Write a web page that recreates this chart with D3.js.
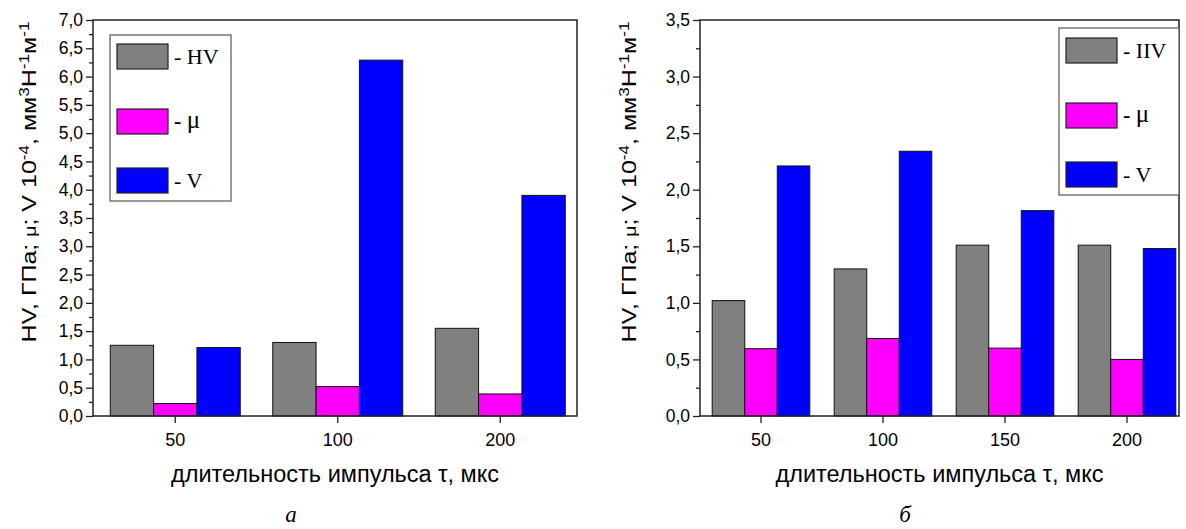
<!DOCTYPE html>
<html>
<head>
<meta charset="utf-8">
<script src="https://cdn.jsdelivr.net/npm/d3@7"></script>
<style>
  body { margin: 0; background: #fff; }
  svg text { fill: #000; }
</style>
</head>
<body>
<svg id="chart" width="1186" height="529"></svg>
<script>
// panel a
var catsA = ['50', '100', '200']
var hvA = [1.25, 1.30, 1.55]
var muA = [0.22, 0.52, 0.39]
var vA = [1.21, 6.29, 3.90]
var namesA = ['HV', 'μ', 'V']

// panel b
var catsB = ['50', '100', '150', '200']
var hvB = [1.02, 1.30, 1.51, 1.51]
var muB = [0.595, 0.685, 0.60, 0.50]
var vB = [2.21, 2.34, 1.815, 1.48]
var namesB = ['IIV', 'μ', 'V']

var colors = ['#808080', '#ff00ff', '#0000ff']
var xTitle = 'длительность импульса τ, мкс'

var svg = d3.select('#chart')
var comma = function(d){ return d3.format('.1f')(d).replace('.', ',') }

function panel(opt) {
   var g = svg.append('g')
   var f = opt.frame   // plot box

   var x = d3.scaleBand()
             .domain(opt.cats)
             .range(opt.xRange)
             .paddingInner(0.2)
             .paddingOuter(0.1)
   var x1 = d3.scaleBand()
              .domain([0, 1, 2])
              .range([0, x.bandwidth()])
   var y = d3.scaleLinear()
             .domain([0, opt.yMax])
             .range([f.bottom, f.top])

   var rows = opt.cats.map(function(c, i){
      return {cat: c, vals: [opt.hv[i], opt.mu[i], opt.v[i]]}
   })

   g.append('g').selectAll('g')
      .data(rows)
      .enter()
      .append('g')
      .attr('transform', function(d){ return 'translate(' + x(d.cat) + ',0)' })
      .selectAll('rect')
      .data(function(d){ return d.vals })
      .enter()
      .append('rect')
      .attr('x', function(d, i){ return x1(i) })
      .attr('width', x1.bandwidth())
      .attr('y', function(d){ return y(d) })
      .attr('height', function(d){ return y(0) - y(d) })
      .style('fill', function(d, i){ return colors[i] })
      .style('stroke', '#111')
      .style('stroke-width', 1)

   // frame
   g.append('rect')
      .attr('x', f.left).attr('y', f.top)
      .attr('width', f.right - f.left).attr('height', f.bottom - f.top)
      .style('fill', 'none').style('stroke', '#222').style('stroke-width', 1.5)

   // y axis, major + minor
   var yAxis = d3.axisLeft(y).ticks(opt.yMax * 2).tickSize(7).tickPadding(3).tickFormat(comma)
   var ya = g.append('g').attr('transform', 'translate(' + f.left + ',0)').call(yAxis)
   var minor = d3.range(0.25, opt.yMax, 0.5)
   g.append('g').attr('transform', 'translate(' + f.left + ',0)')
      .call(d3.axisLeft(y).tickValues(minor).tickSize(4).tickFormat(''))
      .select('.domain').remove()
   ya.select('.domain').remove()
   ya.selectAll('text').style('font-family', 'Liberation Sans, Arial').style('font-size', '17.5px')

   // x axis
   var xa = g.append('g').attr('transform', 'translate(0,' + f.bottom + ')')
      .call(d3.axisBottom(x).tickSize(7).tickPadding(10))
   xa.select('.domain').remove()
   xa.selectAll('text').style('font-family', 'Liberation Sans, Arial').style('font-size', '18px')
   g.selectAll('.tick line').style('stroke', '#222').style('stroke-width', 1.3)

   // axis titles
   g.append('text')
      .attr('x', (f.left + f.right) / 2).attr('y', 482)
      .attr('text-anchor', 'middle')
      .style('font-family', 'Liberation Sans, Arial').style('font-size', '23.5px')
      .text(xTitle)

   // the y title is stretched along its length in the reference
   var yt = g.append('text')
      .attr('transform', 'translate(' + opt.yTitleX + ',182) rotate(-90) scale(1.22,1)')
      .attr('text-anchor', 'middle')
      .style('font-family', 'Liberation Sans, Arial').style('font-size', '20.5px')
   var parts = [
      ['HV, ГПа; ', 0], ['μ', 2], ['; V 10', 0], ['-4', 1], [', мм', 0], ['3', 1],
      ['Н', 0], ['-1', 1], ['м', 0], ['-1', 1]
   ]
   parts.forEach(function(p){
      var t = yt.append('tspan').text(p[0])
      if (p[1] == 1) t.attr('baseline-shift', 'super').style('font-size', '14px')
      if (p[1] == 2) t.style('font-size', '16px')
   })

   // caption
   g.append('text')
      .attr('x', opt.capX).attr('y', 522)
      .attr('text-anchor', 'middle')
      .style('font-family', 'Liberation Serif, Times New Roman').style('font-style', 'italic')
      .style('font-size', '23px')
      .text(opt.caption)

   // legend
   var L = opt.legend
   g.append('rect')
      .attr('x', L.x).attr('y', L.y).attr('width', L.w).attr('height', L.h)
      .style('fill', '#fff').style('stroke', '#555').style('stroke-width', 1.2)
   var items = g.selectAll('.leg')
      .data(opt.names)
      .enter()
      .append('g')
      .attr('class', 'leg')
      .attr('transform', function(d, i){ return 'translate(' + (L.x + 7) + ',' + L.rows[i] + ')' })
   items.append('rect')
      .attr('width', 51).attr('height', 25)
      .style('fill', function(d, i){ return colors[i] })
      .style('stroke', '#222').style('stroke-width', 1.2)
   items.append('text')
      .attr('x', 57).attr('y', function(d, i){ return i == 1 ? 19 : 20 })
      .style('font-family', 'Liberation Serif, Times New Roman')
      .style('font-size', '22px')
      .each(function(d, i){
         var t = d3.select(this)
         if (i == 1) {
            t.append('tspan').text('- ').style('font-weight', 'bold')
            t.append('tspan').text(d).style('font-size', '25px')
         } else {
            t.text('- ' + d)
         }
      })
}

panel({
   cats: catsA, hv: hvA, mu: muA, v: vA, names: namesA,
   yMax: 7,
   frame: {left: 93, right: 577, top: 20, bottom: 416},
   xRange: [94, 581.5],
   yTitleX: 36,
   capX: 291,
   caption: 'а',
   legend: {x: 110, y: 35, w: 121, h: 166, rows: [44, 109, 168]}
})

panel({
   cats: catsB, hv: hvB, mu: muB, v: vB, names: namesB,
   yMax: 3.5,
   frame: {left: 700, right: 1179, top: 20, bottom: 416},
   xRange: [700, 1188],
   yTitleX: 636,
   capX: 905,
   caption: 'б',
   legend: {x: 1059, y: 28, w: 120, h: 167, rows: [38, 103, 162]}
})
</script>
</body>
</html>
